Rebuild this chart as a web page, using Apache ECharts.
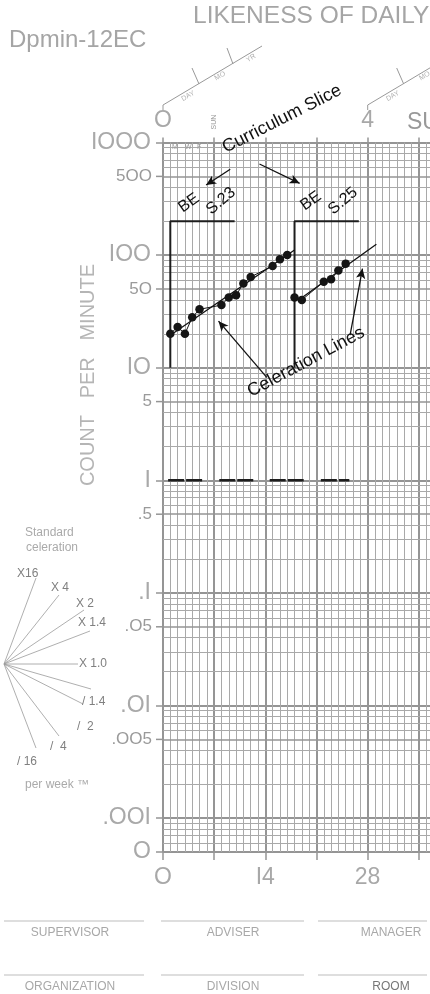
<!DOCTYPE html>
<html>
<head>
<meta charset="utf-8">
<script src="https://cdn.jsdelivr.net/npm/echarts@6/dist/echarts.min.js"></script>
<style>
html, body { margin: 0; padding: 0; background: #fff; }
#sc_chart { width: 430px; height: 994px; }
</style>
</head>
<body>
<div id="sc_chart"></div>
<script>
// data (days since start, counts per minute)
var days1 = [1, 2, 3, 4, 5, 8, 9, 10, 11, 12, 15, 16, 17];
var counts1 = [20, 23, 20, 28, 33, 36, 42, 44, 56, 64, 80, 92, 100];
var days2 = [18, 19, 22, 23, 24, 25];
var counts2 = [42, 40, 58, 61, 73, 84];

// celeration lines (start/end)
var celDays1 = [0.8, 18];
var celCounts1 = [19, 111];
var celDays2 = [18.8, 29.2];
var celCounts2 = [41, 125];

// curriculum slice (phase) lines
var phaseStart = [1, 18];
var phaseEnd = [9.8, 26.8];
var phaseLow = 10;
var phaseHigh = 200;

// record floor (1 per minute)
var floorValue = 1;
var floorFrom = [0.7, 7.7, 14.6, 21.6];
var floorTo = [5.5, 12.6, 19.5, 25.5];

// annotation arrows [day, count] tail -> head
var arrowTail = [[9.2, 578], [13.2, 644], [14.2, 8.2], [25.6, 19.5]];
var arrowHead = [[5.9, 419], [18.7, 434], [7.6, 25.9], [27.3, 76]];

// axis labels
var decadeLabels = { '3': 'IOOO', '2': 'IOO', '1': 'IO', '0': 'I', '-1': '.I', '-2': '.OI', '-3': '.OOI' };
var fiveValues = [500, 50, 5, 0.5, 0.05, 0.005];
var fiveLabels = ['5OO', '5O', '5', '.5', '.O5', '.OO5'];

var FONT = 'Liberation Sans, Arial, sans-serif';
var GRID_C = '#a9a9a9';
var DARK_C = '#959595';

// minor log lines 2..9 per decade
var minorValues = [];
for (var e = -4; e <= 2; e++) {
  for (var m = 2; m <= 9; m++) {
    if (m === 5) continue;
    var v = m * Math.pow(10, e);
    if (v > 0.00055 && v < 1000) minorValues.push(+v.toPrecision(3));
  }
}

function numGlyph(s) {
  return String(s).replace(/1/g, 'I').replace(/0/g, 'O');
}

var dom = document.getElementById('sc_chart');
var myChart = echarts.init(dom);

var series = [];

// horizontal minor grid lines
series.push({
  type: 'line', data: [], silent: true,
  markLine: {
    silent: true, symbol: 'none', animation: false, precision: 10,
    label: { show: false },
    lineStyle: { color: GRID_C, width: 1, type: 'solid' },
    data: minorValues.map(function (v) { return { yAxis: v }; })
  }
});

// 5 x 10^n lines with labels
series.push({
  type: 'line', data: [], silent: true,
  markLine: {
    silent: true, symbol: 'none', animation: false, precision: 10,
    lineStyle: { color: DARK_C, width: 1.5, type: 'solid' },
    label: {
      show: true, position: 'start', distance: 0,
      rich: {
        v: { fontSize: 17, color: '#9a9a9a', fontFamily: FONT, padding: [0, 4, 0, 0] },
        t: { width: 7, height: 1.5, backgroundColor: DARK_C }
      }
    },
    data: fiveValues.map(function (v, i) {
      return { yAxis: v, label: { formatter: '{v|' + fiveLabels[i] + '}{t|}' } };
    })
  }
});

// phase lines
for (var i = 0; i < phaseStart.length; i++) {
  series.push({
    type: 'line', silent: true, symbol: 'none', z: 5,
    lineStyle: { color: '#1e1e1e', width: 2 },
    data: [[phaseStart[i], phaseLow], [phaseStart[i], phaseHigh], [phaseEnd[i], phaseHigh]]
  });
}

// record floor
for (var j = 0; j < floorFrom.length; j++) {
  series.push({
    type: 'line', silent: true, symbol: 'none', z: 5,
    lineStyle: { color: '#1e1e1e', width: 2.5, type: [16, 2] },
    data: [[floorFrom[j], floorValue], [floorTo[j], floorValue]]
  });
}

// celeration lines
series.push({
  type: 'line', silent: true, symbol: 'none', z: 6,
  lineStyle: { color: '#111', width: 1.3 },
  data: [[celDays1[0], celCounts1[0]], [celDays1[1], celCounts1[1]]]
});
series.push({
  type: 'line', silent: true, symbol: 'none', z: 6,
  lineStyle: { color: '#111', width: 1.3 },
  data: [[celDays2[0], celCounts2[0]], [celDays2[1], celCounts2[1]]]
});

// data points
[[days1, counts1], [days2, counts2]].forEach(function (p) {
  series.push({
    type: 'line', z: 7, symbol: 'circle', symbolSize: 8.5,
    itemStyle: { color: '#151515' },
    lineStyle: { color: '#151515', width: 1 },
    data: p[0].map(function (d, k) { return [d, p[1][k]]; })
  });
});

// arrows
series.push({
  type: 'line', data: [], silent: true,
  markLine: {
    silent: true, animation: false, precision: 10, symbol: ['none', 'arrow'], symbolSize: [7, 10],
    label: { show: false },
    lineStyle: { color: '#111', width: 1.3, type: 'solid' },
    data: arrowTail.map(function (t, k) {
      return [{ coord: t }, { coord: arrowHead[k] }];
    })
  }
});

// decorative graphics
var graphic = [];
function txt(x, y, s, size, color, opts) {
  opts = opts || {};
  graphic.push({
    type: 'text', x: x, y: y, rotation: opts.rot || 0, z: 10, silent: true,
    style: {
      text: s, fill: color,
      font: (opts.weight || 'normal') + ' ' + size + 'px ' + FONT,
      textAlign: opts.align || 'left', textVerticalAlign: opts.valign || 'middle'
    }
  });
}
function seg(x1, y1, x2, y2, color, w) {
  graphic.push({
    type: 'line', silent: true, z: 10,
    shape: { x1: x1, y1: y1, x2: x2, y2: y2 },
    style: { stroke: color, lineWidth: w }
  });
}

txt(193, 16, 'LIKENESS OF DAILY', 24.5, '#a5a5a5');
txt(9, 40, 'Dpmin-12EC', 24, '#a5a5a5');
txt(407, 123, 'SUCCESSIVE CALENDAR WEEKS', 23, '#999');

// date scale marks above the chart
[0, 204.7].forEach(function (dx) {
  graphic.push({
    type: 'polyline', silent: true,
    shape: { points: [[163 + dx, 110], [163 + dx, 105], [262 + dx, 46]] },
    style: { stroke: '#999', lineWidth: 1, fill: null }
  });
  seg(199 + dx, 84, 192 + dx, 68, '#999', 1);
  seg(233 + dx, 64, 227 + dx, 48, '#999', 1);
  txt(188 + dx, 96, 'DAY', 7, '#b0b0b0', { rot: 0.53, align: 'center' });
  txt(220 + dx, 76, 'MO', 7, '#b0b0b0', { rot: 0.53, align: 'center' });
  txt(251 + dx, 58, 'YR', 7, '#b0b0b0', { rot: 0.53, align: 'center' });
});
txt(172, 147, 'M', 7, '#999');
txt(185, 147, 'W', 7, '#999');
txt(197, 147, 'F', 7, '#999');
txt(214, 122, 'SUN', 7, '#999', { rot: Math.PI / 2, align: 'center' });

txt(88, 375, 'COUNT   PER   MINUTE', 20, '#b5b5b5', { rot: Math.PI / 2, align: 'center' });

// annotation texts
txt(282, 119, 'Curriculum Slice', 18, '#111', { rot: 0.47, align: 'center' });
txt(306, 362, 'Celeration Lines', 18, '#111', { rot: 0.49, align: 'center' });
txt(189, 203, 'BE', 16, '#111', { rot: 0.62, align: 'center' });
txt(221, 201, 'S.23', 16, '#111', { rot: 0.7, align: 'center' });
txt(311, 201, 'BE', 16, '#111', { rot: 0.62, align: 'center' });
txt(343, 201, 'S.25', 16, '#111', { rot: 0.7, align: 'center' });

// standard celeration fan
var fanEnds = [[36, 578], [59, 595], [84, 610], [90, 631], [78, 664], [91, 689], [83, 704], [59, 736], [36, 748]];
fanEnds.forEach(function (p) { seg(4, 664, p[0], p[1], '#9a9a9a', 0.8); });
txt(25, 533, 'Standard', 12, '#aaa');
txt(26, 548, 'celeration', 12, '#aaa');
txt(17, 574, 'X16', 12, '#808080');
txt(51, 588, 'X 4', 12, '#808080');
txt(76, 604, 'X 2', 12, '#808080');
txt(78, 623, 'X 1.4', 12, '#808080');
txt(79, 664, 'X 1.0', 12, '#808080');
txt(82, 702, '/ 1.4', 12, '#808080');
txt(77, 727, '/  2', 12, '#808080');
txt(50, 747, '/  4', 12, '#808080');
txt(17, 762, '/ 16', 12, '#808080');
txt(25, 785, 'per week \u2122', 12, '#aaa');

// signature lines
[[921, ['SUPERVISOR', 'ADVISER', 'MANAGER'], 933], [975, ['ORGANIZATION', 'DIVISION', 'ROOM'], 987]].forEach(function (row) {
  var xs = [[4, 144], [161, 304], [318, 427]];
  var cx = [70, 233, 391];
  xs.forEach(function (r, k) {
    seg(r[0], row[0], r[1], row[0], '#bdbdbd', 1);
    txt(cx[k], row[2], row[1][k], 12, row[1][k] === 'ROOM' ? '#777' : '#a8a8a8', { align: 'center' });
  });
});

var option = {
  animation: false,
  backgroundColor: '#fff',
  grid: { left: 163, top: 142.5, width: 1023, height: 709.5, containLabel: false, outerBoundsMode: 'none' },
  xAxis: [
    {
      type: 'value', min: 0, max: 140, interval: 7, position: 'bottom',
      axisLine: { show: false },
      axisTick: { show: true, length: 8, lineStyle: { color: DARK_C, width: 1.5 } },
      axisLabel: {
        margin: 14, fontSize: 23, color: '#a8a8a8', fontFamily: FONT,
        formatter: function (v) { return v % 14 === 0 ? numGlyph(v) : ''; }
      },
      splitLine: { show: true, lineStyle: { color: DARK_C, width: 2 } },
      minorTick: { show: false, splitNumber: 7 },
      minorSplitLine: { show: true, lineStyle: { color: GRID_C, width: 1 } }
    },
    {
      type: 'value', min: 0, max: 140, interval: 7, position: 'top',
      axisLine: { show: false },
      axisTick: { show: true, length: 5, lineStyle: { color: DARK_C, width: 1.5 } },
      axisLabel: {
        margin: 10, fontSize: 23, color: '#a8a8a8', fontFamily: FONT,
        formatter: function (v) { return v % 28 === 0 ? numGlyph(v / 7) : ''; }
      },
      splitLine: { show: false }
    }
  ],
  yAxis: {
    type: 'log', logBase: 10, min: 0.0005, max: 1000,
    axisLine: { show: false },
    axisTick: { show: true, length: 7, lineStyle: { color: DARK_C, width: 1.5 } },
    axisLabel: {
      margin: 12, fontSize: 23, color: '#a9a9a9', fontFamily: FONT,
      formatter: function (v) {
        if (v < 0.0008) return 'O';
        var k = String(Math.round(Math.log10(v)));
        return decadeLabels[k] || '';
      }
    },
    splitLine: { show: true, lineStyle: { color: DARK_C, width: 2 } }
  },
  graphic: graphic,
  series: series
};

if (option && typeof option === 'object') {
  myChart.setOption(option);
}

window.onresize = function () {
  myChart.resize();
};
</script>
</body>
</html>
